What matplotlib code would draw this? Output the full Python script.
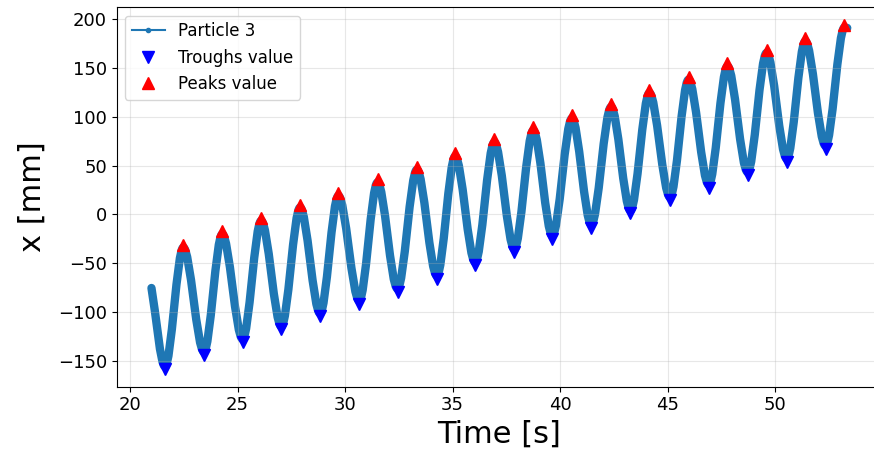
import matplotlib
matplotlib.use('Agg')
import matplotlib.pyplot as plt
from matplotlib.path import Path
from matplotlib.patches import PathPatch

# curva de la particula: punto inicial, minimos y maximos alternados, punto final
t_curve = [21.00, 21.63, 22.48, 23.44, 24.29, 25.24, 26.10, 27.04, 27.91, 28.84, 29.69,
           30.66, 31.51, 32.44, 33.34, 34.27, 35.12, 36.05, 36.94, 37.87, 38.75,
           39.64, 40.55, 41.45, 42.37, 43.27, 44.15, 45.11, 45.97, 46.91, 47.78,
           48.72, 49.60, 50.54, 51.40, 52.34, 53.22, 53.35]
x_curve = [-75.5, -156, -34, -141, -20.3, -128, -6.6, -115, 7, -101.6, 19,
           -88.6, 32.7, -76.3, 45.8, -63, 59.4, -49.2, 73.8, -35.5, 86,
           -21.8, 98.4, -10.6, 110, 4, 124.4, 17.5, 138, 30.2, 151.8,
           43.2, 165.5, 56.9, 177.5, 70.2, 191.5, 191]

# valles
t_troughs = [21.63, 23.44, 25.24, 27.04, 28.84, 30.66, 32.44, 34.27, 36.05,
             37.87, 39.64, 41.45, 43.27, 45.11, 46.91, 48.72, 50.54, 52.34]
x_troughs = [-159, -144, -131, -118, -104.6, -91.6, -79.3, -66, -52.2,
             -38.5, -24.8, -13.6, 1, 14.5, 27.2, 40.2, 53.9, 67.2]

# picos
t_peaks = [22.48, 24.29, 26.10, 27.91, 29.69, 31.51, 33.34, 35.12, 36.94,
           38.75, 40.55, 42.37, 44.15, 45.97, 47.78, 49.60, 51.40, 53.22]
x_peaks = [-31, -17.3, -3.6, 10, 22, 35.7, 48.8, 62.4, 76.8,
           89, 101.4, 113, 127.4, 141, 154.8, 168.5, 180.5, 194.5]

fig, ax = plt.subplots(figsize=(8.74, 4.59), dpi=100)
ax.set_position([0.1335, 0.1575, 0.8757, 0.8266])

# trazo suave entre extremos (curvas de Bezier con tangente horizontal en cada extremo)
verts = [(t_curve[0], x_curve[0])]
codes = [Path.MOVETO]
for i in range(1, len(t_curve) - 1):
    t0, y0 = t_curve[i - 1], x_curve[i - 1]
    t1, y1 = t_curve[i], x_curve[i]
    dt = t1 - t0
    if i == 1:
        c1 = (t0 + dt / 3, y0 + (y1 - y0) / 3)
    else:
        c1 = (t0 + dt / 3, y0)
    c2 = (t1 - dt / 3, y1)
    verts += [c1, c2, (t1, y1)]
    codes += [Path.CURVE4] * 3
verts.append((t_curve[-1], x_curve[-1]))
codes.append(Path.LINETO)

ax.add_patch(PathPatch(Path(verts, codes), facecolor='none', edgecolor='#1f77b4',
                       lw=6, capstyle='round', joinstyle='round'))
ax.plot([], [], '.-', color='#1f77b4', label='Particle 3')
ax.plot(t_troughs, x_troughs, 'v', color='blue', ms=8, label='Troughs value')
ax.plot(t_peaks, x_peaks, '^', color='red', ms=8, label='Peaks value')

ax.set_xlabel('Time [s]', fontsize=22)
ax.set_ylabel('x [mm]', fontsize=22, labelpad=8)
ax.tick_params(labelsize=13)
ax.grid(alpha=0.3)
ax.legend(loc='upper left', fontsize=12)

fig.savefig('out.png', dpi=100)
